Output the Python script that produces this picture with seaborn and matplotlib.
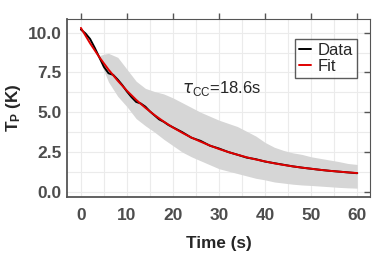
import numpy as np
import pandas as pd
import matplotlib
matplotlib.use("Agg")
import matplotlib.pyplot as plt
import seaborn as sns
from matplotlib.ticker import MultipleLocator

# --- dane ---
t_data = [0, 1, 2, 3, 4, 5, 6, 7, 8, 9, 10, 11, 12, 13, 14, 15, 16, 17, 18, 19, 20,
          22, 24, 26, 28, 30, 32, 34, 36, 38, 40, 42, 44, 46, 48, 50, 52, 54, 56, 58, 60]
data_vals = [10.2, 9.95, 9.6, 9.05, 8.45, 7.85, 7.45, 7.35, 7.05, 6.7, 6.3, 5.95, 5.65, 5.55,
             5.35, 5.05, 4.8, 4.55, 4.4, 4.2, 4.05, 3.75, 3.4, 3.2, 2.9, 2.72, 2.5, 2.33,
             2.15, 2.05, 1.9, 1.8, 1.7, 1.6, 1.52, 1.45, 1.38, 1.32, 1.27, 1.22, 1.17]

t_fit = [0, 2, 4, 6, 8, 10, 12, 14, 16, 18, 20, 22, 24, 26, 28, 30,
         32, 34, 36, 38, 40, 42, 44, 46, 48, 50, 52, 54, 56, 58, 60]
fit_vals = [10.3, 9.33, 8.46, 7.68, 6.98, 6.35, 5.78, 5.28, 4.82, 4.41, 4.04, 3.71, 3.41,
            3.15, 2.91, 2.69, 2.5, 2.33, 2.17, 2.03, 1.91, 1.79, 1.69, 1.6, 1.52, 1.45,
            1.38, 1.32, 1.27, 1.22, 1.18]

t_band = [4, 5, 6, 8, 10, 12, 14, 16, 18, 20, 22, 24, 26, 28, 30, 32, 34, 36, 38, 40,
          42, 44, 46, 48, 50, 52, 54, 56, 58, 60]
band_hi = [8.55, 8.65, 8.7, 8.45, 7.7, 6.95, 6.5, 6.3, 6.15, 5.9, 5.6, 5.3, 5.0, 4.75, 4.5,
           4.3, 4.1, 3.8, 3.5, 3.1, 2.8, 2.6, 2.45, 2.35, 2.2, 2.1, 2.0, 1.9, 1.78, 1.72]
band_lo = [8.45, 7.6, 6.9, 6.0, 5.35, 4.6, 4.15, 3.75, 3.3, 2.9, 2.5, 2.2, 1.95, 1.7, 1.45,
           1.3, 1.15, 1.0, 0.85, 0.75, 0.62, 0.55, 0.48, 0.43, 0.4, 0.36, 0.32, 0.28, 0.25, 0.23]

tau_label = r'$\tau_{\mathrm{CC}}$=18.6s'

df_data = pd.DataFrame({'t': t_data, 'T': data_vals})
df_fit = pd.DataFrame({'t': t_fit, 'T': fit_vals})

sns.set_style('white')
plt.rcParams['font.family'] = ['Liberation Sans', 'DejaVu Sans']
plt.rcParams['mathtext.fontset'] = 'custom'
plt.rcParams['mathtext.rm'] = 'Liberation Sans'
plt.rcParams['mathtext.bf'] = 'Liberation Sans:bold'

fig, ax = plt.subplots(figsize=(3.9, 2.6), dpi=100)
fig.subplots_adjust(left=0.172, right=0.949, bottom=0.242, top=0.927)

ax.fill_between(t_band, band_lo, band_hi, color='#d6d6d6', lw=0, zorder=1)
sns.lineplot(data=df_data, x='t', y='T', color='black', lw=1.4, label='Data', ax=ax, zorder=3)
sns.lineplot(data=df_fit, x='t', y='T', color='#e00000', lw=1.4, label='Fit', ax=ax, zorder=4)

ax.set_xlim(-3, 62.8)
ax.set_ylim(-0.33, 10.86)
ax.xaxis.set_major_locator(MultipleLocator(10))
ax.xaxis.set_minor_locator(MultipleLocator(5))
ax.yaxis.set_major_locator(MultipleLocator(2.5))
ax.yaxis.set_minor_locator(MultipleLocator(1.25))
ax.grid(which='both', color='#ebebeb', lw=0.8, zorder=0)
ax.set_axisbelow(True)

ax.tick_params(axis='x', which='major', direction='out', length=4, width=1, color='#555555',
               top=True, labelsize=12.5, labelcolor='#4d4d4d', pad=4)
ax.tick_params(axis='y', which='major', direction='in', length=4, width=1, color='#555555',
               right=True, labelsize=12.5, labelcolor='#4d4d4d', pad=4)
ax.tick_params(which='minor', length=0)
for lab in ax.get_xticklabels() + ax.get_yticklabels():
    lab.set_fontweight('bold')
for side in ['top', 'right']:
    ax.spines[side].set_color('#555555')
    ax.spines[side].set_linewidth(0.8)
for side in ['left', 'bottom']:
    ax.spines[side].set_color('#555555')
    ax.spines[side].set_linewidth(1.3)

ax.set_xlabel('Time (s)', fontsize=12.3, fontweight='bold', labelpad=9)
ax.set_ylabel(r'$\mathbf{T_P}$ (K)', fontsize=12.3, fontweight='bold', labelpad=3)

ax.text(22, 6.5, tau_label, fontsize=12, va='center', ha='left')

leg = ax.legend(loc='upper right', bbox_to_anchor=(0.957, 0.888), fontsize=12,
                frameon=True, fancybox=False, handlelength=0.7, handletextpad=0.4,
                borderpad=0.25, labelspacing=0.05, borderaxespad=0)
leg.get_frame().set_edgecolor('#333333')
leg.get_frame().set_linewidth(1.0)

fig.savefig('out.png', dpi=100)
